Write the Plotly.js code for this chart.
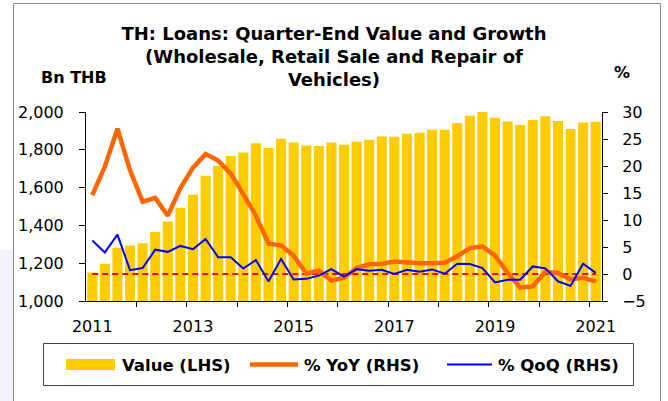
<!DOCTYPE html>
<html>
<head>
<meta charset="utf-8">
<script src="https://cdn.plot.ly/plotly-3.0.1.min.js"></script>
<style>
  html, body { margin: 0; padding: 0; background: #ffffff; }
  #chart { width: 668px; height: 401px; }
</style>
</head>
<body>
<div id="chart"></div>
<script>
// ---- data (quarter-end, 2011Q1 .. 2021Q1) ----
const quarters = [
  '2011Q1','2011Q2','2011Q3','2011Q4','2012Q1','2012Q2','2012Q3','2012Q4',
  '2013Q1','2013Q2','2013Q3','2013Q4','2014Q1','2014Q2','2014Q3','2014Q4',
  '2015Q1','2015Q2','2015Q3','2015Q4','2016Q1','2016Q2','2016Q3','2016Q4',
  '2017Q1','2017Q2','2017Q3','2017Q4','2018Q1','2018Q2','2018Q3','2018Q4',
  '2019Q1','2019Q2','2019Q3','2019Q4','2020Q1','2020Q2','2020Q3','2020Q4',
  '2021Q1'
];
const valueBn = [
  1151, 1197, 1282, 1293, 1305, 1365, 1420, 1494,
  1562, 1663, 1714, 1767, 1786, 1834, 1810, 1859,
  1839, 1823, 1820, 1838, 1827, 1843, 1853, 1871,
  1869, 1885, 1890, 1906, 1906, 1942, 1980, 2000,
  1970, 1950, 1931, 1958, 1977, 1952, 1910, 1945,
  1949
];
const yoyPct = [
  14.6, 19.9, 26.9, 19.2, 13.4, 14.1, 10.8, 15.9,
  19.7, 22.2, 21.0, 18.6, 14.8, 10.8, 5.6, 5.3,
  3.4, 0.1, 0.6, -1.2, -0.7, 1.1, 1.8, 1.9,
  2.3, 2.1, 2.0, 2.0, 2.1, 3.3, 4.8, 5.1,
  3.4, 0.2, -2.5, -2.3, 0.4, 0.2, -1.0, -0.7,
  -1.4
];
const qoqPct = [
  6.2, 4.0, 7.3, 0.7, 1.1, 4.5, 4.1, 5.2,
  4.6, 6.5, 3.1, 3.1, 1.0, 2.6, -1.4, 2.8,
  -1.0, -0.9, -0.3, 0.9, -0.5, 0.9, 0.6, 0.8,
  0.0, 0.8, 0.4, 0.85, 0.05, 1.9, 1.85, 1.1,
  -1.55, -1.05, -1.05, 1.4, 1.05, -1.35, -2.2, 1.9,
  0.2
];
const seriesNames = ['Value (LHS)', '% YoY (RHS)', '% QoQ (RHS)'];
const seriesColors = ['#FFCC00', '#FF6600', '#0000FF'];
const yearLabels = ['2011','2013','2015','2017','2019','2021'];
const leftTicks = [1000, 1200, 1400, 1600, 1800, 2000];
const rightTicks = [-5, 0, 5, 10, 15, 20, 25, 30];

// ---- derived positions ----
const idx = quarters.map((q, i) => i);
const labelPos = yearLabels.map(y => quarters.indexOf(y + 'Q1'));
const boundaryPos = [];
quarters.forEach((q, i) => { if (i > 0 && q.endsWith('Q1')) boundaryPos.push(i - 0.5); });
const zeroRef = quarters.map(() => 0);

const FONT = 'DejaVu Sans, Liberation Sans, Arial, sans-serif';

const traces = [
  {
    type: 'bar', name: seriesNames[0], x: idx, y: valueBn, hovertext: quarters,
    marker: { color: seriesColors[0], line: { width: 0 } },
    yaxis: 'y', showlegend: false
  },
  {
    type: 'scatter', mode: 'lines', x: idx, y: zeroRef, showlegend: false,
    hoverinfo: 'skip', line: { color: '#FF0000', width: 2, dash: '6px,4px' },
    yaxis: 'y2'
  },
  {
    type: 'scatter', mode: 'lines', name: seriesNames[1], x: idx, y: yoyPct, hovertext: quarters,
    line: { color: seriesColors[1], width: 4.5 }, yaxis: 'y2', showlegend: false
  },
  {
    type: 'scatter', mode: 'lines', name: seriesNames[2], x: idx, y: qoqPct, hovertext: quarters,
    line: { color: seriesColors[2], width: 2 }, yaxis: 'y2', showlegend: false
  }
];

const W = 668, H = 401, L = 86, R = 66, T = 112, B = 100;
const pw = W - L - R, ph = H - T - B;
const px = v => (v - L) / pw;
const py = v => (H - B - v) / ph;

// legend (drawn as a boxed key below the plot)
const legY = 364.5;
const legendKeys = [
  { kind: 'rect', x0: 66, x1: 115, tx: 120 },
  { kind: 'line', x0: 250, x1: 298, tx: 302, w: 4.5 },
  { kind: 'line', x0: 447, x1: 492, tx: 496, w: 2 }
];
const legendShapes = legendKeys.map((k, i) => k.kind === 'rect'
  ? { type: 'rect', xref: 'paper', yref: 'paper', x0: px(k.x0), x1: px(k.x1), y0: py(legY + 5.5), y1: py(legY - 5.5),
      fillcolor: seriesColors[i], line: { width: 0 } }
  : { type: 'line', xref: 'paper', yref: 'paper', x0: px(k.x0), x1: px(k.x1), y0: py(legY), y1: py(legY),
      line: { color: seriesColors[i], width: k.w } });
const legendTexts = legendKeys.map((k, i) => ({
  text: seriesNames[i], xref: 'paper', yref: 'paper', x: px(k.tx), y: py(legY + 0.5), showarrow: false,
  xanchor: 'left', yanchor: 'middle', font: { family: FONT, size: 16.5, weight: 'bold', color: '#000000' }
}));

const layout = {
  width: W, height: H,
  margin: { l: L, r: R, t: T, b: B, pad: 0 },
  paper_bgcolor: '#ffffff', plot_bgcolor: 'rgba(0,0,0,0)',
  font: { family: FONT, size: 16, color: '#000000' },
  showlegend: false,
  bargap: 0.2,
  title: {
    text: 'TH: Loans: Quarter-End Value and Growth<br>(Wholesale, Retail Sale and Repair of<br>Vehicles)',
    font: { family: FONT, size: 18, color: '#000000', weight: 'bold' },
    x: 0.5, xref: 'container', xanchor: 'center',
    y: 1 - 39.5 / H, yref: 'container', yanchor: 'middle'
  },
  xaxis: {
    range: [-0.5, 40.5], showgrid: false, zeroline: false,
    showline: true, linecolor: '#000000', linewidth: 1,
    tickmode: 'array', tickvals: labelPos, ticktext: yearLabels,
    ticks: '', ticklabelstandoff: 11,
    tickfont: { family: FONT, size: 16, color: '#000000' },
    minor: { tickmode: 'array', tickvals: boundaryPos, ticks: 'outside', ticklen: 5, tickwidth: 1, tickcolor: '#000000', showgrid: false }
  },
  yaxis: {
    range: [1000, 2000], showgrid: false, zeroline: false,
    showline: true, linecolor: '#000000', linewidth: 1,
    tickmode: 'array', tickvals: leftTicks, tickformat: ',d',
    ticks: 'outside', ticklen: 6, tickcolor: '#000000', ticklabelstandoff: 12,
    tickfont: { family: FONT, size: 16, color: '#000000' }
  },
  yaxis2: {
    range: [-5, 30], overlaying: 'y', side: 'right', showgrid: false, zeroline: false,
    showline: true, linecolor: '#000000', linewidth: 1,
    tickmode: 'array', tickvals: rightTicks,
    ticks: 'outside', ticklen: 5, tickcolor: '#000000', ticklabelstandoff: 11,
    tickfont: { family: FONT, size: 16, color: '#000000' }
  },
  annotations: [
    { text: 'Bn THB', xref: 'paper', yref: 'paper', x: px(73.5), y: py(78), showarrow: false,
      xanchor: 'center', yanchor: 'middle', font: { family: FONT, size: 16, weight: 'bold', color: '#000000' } },
    { text: '%', xref: 'paper', yref: 'paper', x: px(622), y: py(72.5), showarrow: false,
      xanchor: 'center', yanchor: 'middle', font: { family: FONT, size: 16, weight: 'bold', color: '#000000' } }
  ].concat(legendTexts),
  shapes: [
    { type: 'rect', xref: 'paper', yref: 'paper', x0: px(0), x1: px(13), y0: py(401), y1: py(250),
      fillcolor: '#F2F2FA', line: { width: 0 }, layer: 'below' },
    { type: 'rect', xref: 'paper', yref: 'paper', x0: px(13.5), x1: px(660.5), y0: py(410), y1: py(3.5),
      fillcolor: 'rgba(0,0,0,0)', line: { color: '#888888', width: 1 }, layer: 'below' },
    { type: 'rect', xref: 'paper', yref: 'paper', x0: px(43.5), x1: px(633.5), y0: py(385.5), y1: py(343.5),
      fillcolor: 'rgba(0,0,0,0)', line: { color: '#444444', width: 1 }, layer: 'below' }
  ].concat(legendShapes)
};

Plotly.newPlot('chart', traces, layout, { displayModeBar: false, staticPlot: true });
</script>
</body>
</html>
